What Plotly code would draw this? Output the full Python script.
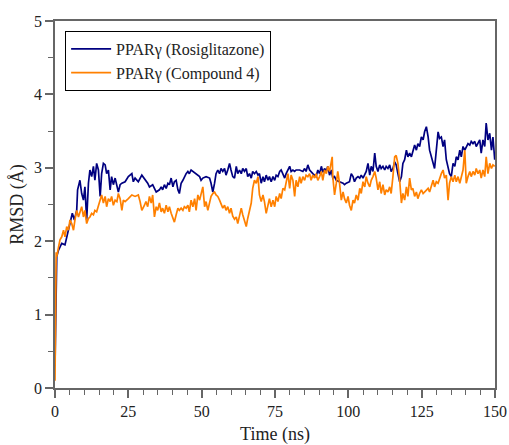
import plotly.graph_objects as go

series_names = ["PPARγ (Rosiglitazone)", "PPARγ (Compound 4)"]
line_colors = ["#000080", "#FF8000"]

t_rosi = [0, 0.3, 0.6, 1.2, 2.3, 3.4, 4.0, 5.1, 5.9, 6.6, 7.4, 7.7, 8.5, 9.1, 9.7, 10.2, 10.8, 11.4, 11.9, 12.5,
          13.1, 13.6, 14.2, 14.8, 15.4, 15.9, 16.5, 17.1, 17.6, 18.2, 18.8, 19.3, 19.9, 20.5, 21.1, 21.6, 22.2, 22.8,
          23.9, 25.0, 26.2, 26.7, 27.3, 28.4, 29.6, 31.0, 31.6, 32.2, 33.3, 33.9, 34.5, 35.6, 36.2, 36.7, 37.3, 37.9,
          38.5, 39.0, 39.6, 40.2, 40.7, 41.3, 41.9, 42.4, 43.0, 43.6, 44.1, 44.7, 45.3, 45.8, 46.4, 47.0, 48.1, 49.3,
          49.8, 50.4, 51.5, 52.7, 53.2, 53.8, 54.4, 54.9, 55.5, 56.1, 56.6, 57.2, 57.8, 58.3, 58.9, 59.5, 60.0, 60.6,
          61.2, 61.8, 62.3, 62.9, 63.5, 64.0, 64.6, 65.2, 65.7, 66.3, 66.9, 67.4, 68.0, 68.6, 69.2, 69.7, 70.3, 70.9,
          71.4, 72.0, 72.6, 73.1, 73.7, 74.3, 74.9, 75.4, 76.0, 76.6, 77.1, 77.7, 78.3, 78.8, 79.4, 80.0, 80.5, 81.1,
          81.7, 82.2, 83.4, 84.5, 85.1, 85.6, 86.2, 86.8, 87.9, 89.0, 89.6, 90.2, 90.8, 91.3, 91.9, 92.5, 93.0, 93.6,
          94.2, 94.7, 95.3, 95.9, 97.0, 98.2, 98.7, 99.3, 100.4, 101.0, 101.6, 102.1, 102.7, 103.3, 103.9, 104.4,
          105.0, 105.6, 106.1, 106.7, 107.3, 107.8, 108.4, 109.0, 109.5, 110.1, 110.7, 111.2, 111.8, 112.4, 112.9,
          113.5, 114.1, 114.6, 115.2, 115.8, 116.3, 116.9, 117.5, 118.1, 118.6, 119.2, 119.8, 120.3, 120.9, 121.5,
          122.0, 122.6, 123.2, 123.7, 124.3, 124.9, 125.5, 126.0, 126.6, 127.2, 127.7, 128.3, 128.9, 129.4, 130.0,
          130.6, 131.1, 131.7, 132.3, 132.8, 133.4, 134.0, 134.5, 135.1, 135.7, 136.3, 136.8, 137.4, 138.0, 138.5,
          139.1, 139.7, 140.2, 140.8, 141.4, 141.9, 142.5, 143.1, 143.6, 144.2, 144.8, 145.3, 145.9, 146.5, 147.0,
          147.6, 148.2, 148.8, 149.3, 149.9]
rmsd_rosi = [0.3, 1.2, 1.79, 1.88, 1.97, 1.95, 2.06, 2.24, 2.38, 2.29, 2.42, 2.70, 2.83, 2.65, 2.56, 2.74, 2.29, 2.79,
             2.97, 2.88, 3.02, 2.83, 3.06, 2.97, 2.61, 2.92, 3.06, 3.04, 2.92, 2.97, 2.70, 2.88, 2.77, 2.86, 2.74,
             2.67, 2.77, 2.79, 2.81, 2.88, 2.92, 2.81, 2.86, 2.81, 2.90, 2.83, 2.79, 2.74, 2.77, 2.72, 2.67, 2.70,
             2.74, 2.70, 2.77, 2.72, 2.79, 2.77, 2.86, 2.74, 2.81, 2.83, 2.70, 2.65, 2.79, 2.83, 2.88, 2.92, 2.95,
             2.92, 2.97, 2.95, 2.92, 2.88, 2.83, 2.86, 2.88, 2.86, 2.79, 2.67, 2.79, 2.92, 2.97, 2.92, 2.99, 2.95,
             2.99, 2.90, 2.97, 3.06, 2.97, 2.88, 2.86, 3.02, 2.92, 2.97, 2.92, 2.99, 2.95, 2.99, 2.88, 2.92, 2.86,
             2.95, 2.92, 2.95, 2.90, 2.92, 2.79, 2.88, 2.81, 2.90, 2.83, 2.88, 2.81, 2.88, 2.83, 2.90, 2.88, 2.95,
             2.97, 2.90, 2.86, 2.92, 2.97, 3.02, 2.95, 2.97, 2.95, 2.97, 2.97, 2.95, 2.99, 2.95, 3.04, 2.97, 2.92,
             2.88, 2.97, 2.92, 3.02, 2.94, 2.99, 2.95, 3.02, 2.90, 2.97, 2.86, 2.88, 2.83, 2.81, 2.79, 2.77, 2.79,
             2.81, 2.92, 2.88, 2.81, 2.86, 2.88, 2.86, 2.90, 2.86, 2.90, 2.95, 3.06, 2.90, 3.02, 2.95, 3.20, 3.02,
             2.95, 3.04, 2.99, 3.02, 2.97, 3.02, 2.99, 3.04, 2.95, 2.99, 3.08, 3.04, 2.92, 2.81, 2.88, 3.06, 3.11,
             3.24, 3.15, 3.20, 3.15, 3.22, 3.31, 3.24, 3.33, 3.29, 3.42, 3.38, 3.49, 3.56, 3.42, 3.24, 3.15, 3.04,
             2.99, 3.24, 3.49, 3.40, 3.42, 3.29, 3.38, 3.11, 3.02, 2.92, 2.88, 3.06, 3.02, 3.15, 3.11, 3.24, 3.15,
             3.29, 3.24, 3.29, 3.33, 3.31, 3.36, 3.33, 3.36, 3.29, 3.33, 3.38, 3.20, 3.38, 3.29, 3.61, 3.38, 3.47,
             3.24, 3.42, 3.11]

t_cmp4 = [0, 0.2, 0.4, 0.6, 1.2, 1.7, 2.3, 2.9, 3.4, 4.0, 4.6, 5.1, 5.7, 6.3, 6.8, 7.4, 8.0, 8.5, 9.1, 9.7, 10.2,
          10.8, 11.4, 11.9, 12.5, 13.1, 13.6, 14.2, 14.8, 15.4, 15.9, 16.5, 17.1, 17.6, 18.2, 18.8, 19.3, 19.9, 20.5,
          21.1, 21.6, 22.2, 22.8, 23.3, 23.9, 25.0, 26.2, 27.3, 28.4, 29.0, 29.6, 30.5, 31.0, 31.6, 32.2, 32.8, 33.3,
          33.9, 34.5, 35.0, 35.6, 36.2, 36.7, 37.3, 37.9, 38.5, 39.0, 39.6, 40.2, 40.7, 41.3, 41.9, 42.4, 43.0, 43.6,
          44.1, 44.7, 45.3, 45.8, 46.4, 47.0, 47.6, 48.1, 48.7, 49.3, 49.8, 50.4, 51.0, 51.5, 52.1, 52.7, 53.2, 53.8,
          54.4, 54.9, 55.5, 56.1, 56.6, 57.2, 57.8, 58.3, 58.9, 59.5, 60.0, 60.6, 61.2, 61.8, 62.3, 62.9, 63.5, 64.0,
          64.6, 65.2, 65.7, 66.3, 66.9, 67.4, 68.0, 68.6, 69.2, 69.7, 70.3, 70.9, 71.4, 72.0, 72.6, 73.1, 73.7, 74.3,
          74.9, 75.4, 76.0, 76.6, 77.1, 77.7, 78.3, 78.8, 79.4, 80.0, 80.5, 81.1, 81.7, 82.2, 82.8, 83.4, 83.9, 84.5,
          85.1, 85.6, 86.2, 86.8, 87.3, 87.9, 88.5, 89.0, 89.6, 90.2, 90.8, 91.3, 91.9, 92.5, 93.0, 93.6, 94.2, 94.5,
          94.7, 95.3, 95.9, 96.4, 97.0, 97.6, 98.2, 98.7, 99.3, 99.9, 100.4, 101.0, 101.6, 102.1, 102.7, 103.3,
          103.9, 104.4, 105.0, 105.6, 106.1, 106.7, 107.3, 107.8, 108.4, 109.0, 109.5, 110.1, 110.7, 111.2, 111.8,
          112.4, 112.9, 113.5, 114.1, 114.6, 115.2, 115.8, 116.3, 116.9, 117.5, 118.1, 118.6, 119.2, 119.8, 120.3,
          120.9, 121.5, 122.0, 122.6, 123.2, 123.7, 124.3, 124.9, 125.5, 126.0, 126.6, 127.2, 127.7, 128.3, 128.9,
          129.4, 130.0, 130.6, 131.1, 131.7, 132.3, 132.8, 133.4, 134.0, 134.5, 135.1, 135.7, 136.3, 136.8, 137.4,
          138.0, 138.5, 139.1, 139.7, 140.2, 140.8, 141.4, 141.9, 142.5, 143.1, 143.6, 144.2, 144.8, 145.3, 145.9,
          146.5, 147.0, 147.6, 148.2, 148.8, 149.3, 149.9]
rmsd_cmp4 = [0.1, 1.0, 1.85, 1.79, 1.92, 2.02, 2.06, 2.15, 2.06, 2.20, 2.15, 2.29, 2.24, 2.15, 2.29, 2.42, 2.33, 2.40,
             2.47, 2.33, 2.42, 2.24, 2.31, 2.33, 2.38, 2.36, 2.42, 2.40, 2.49, 2.56, 2.63, 2.52, 2.61, 2.47, 2.58,
             2.54, 2.61, 2.49, 2.56, 2.54, 2.65, 2.58, 2.42, 2.56, 2.54, 2.58, 2.63, 2.61, 2.63, 2.54, 2.42, 2.49,
             2.54, 2.47, 2.61, 2.52, 2.63, 2.33, 2.47, 2.42, 2.52, 2.40, 2.45, 2.38, 2.49, 2.40, 2.47, 2.38, 2.31,
             2.26, 2.36, 2.45, 2.42, 2.45, 2.42, 2.47, 2.45, 2.49, 2.40, 2.56, 2.47, 2.58, 2.42, 2.63, 2.56, 2.65,
             2.74, 2.47, 2.54, 2.42, 2.52, 2.61, 2.65, 2.67, 2.63, 2.61, 2.56, 2.52, 2.45, 2.49, 2.42, 2.47, 2.38,
             2.45, 2.34, 2.30, 2.33, 2.24, 2.36, 2.45, 2.36, 2.29, 2.20, 2.31, 2.42, 2.52, 2.72, 2.83, 2.79, 2.88,
             2.63, 2.54, 2.63, 2.54, 2.38, 2.49, 2.58, 2.47, 2.56, 2.47, 2.61, 2.54, 2.65, 2.58, 2.72, 2.70, 2.79,
             2.92, 2.72, 2.90, 2.83, 2.61, 2.83, 2.74, 2.88, 2.79, 2.88, 2.83, 2.90, 2.88, 2.92, 2.83, 2.90, 2.86,
             2.92, 2.83, 2.88, 2.95, 2.83, 2.97, 2.92, 3.02, 2.95, 3.11, 3.15, 2.88, 2.63, 2.79, 2.95, 2.79, 2.56,
             2.67, 2.58, 2.52, 2.61, 2.49, 2.42, 2.56, 2.52, 2.63, 2.56, 2.72, 2.65, 2.81, 2.74, 2.88, 2.79, 2.74,
             2.83, 2.88, 2.95, 2.86, 2.70, 2.81, 2.65, 2.77, 2.63, 2.70, 2.67, 2.74, 2.65, 2.88, 3.15, 3.17, 3.06,
             2.83, 2.52, 2.65, 2.56, 2.74, 2.61, 2.86, 2.70, 2.72, 2.61, 2.67, 2.58, 2.65, 2.70, 2.65, 2.67, 2.70,
             2.72, 2.67, 2.77, 2.83, 2.74, 2.81, 2.79, 2.86, 2.92, 2.97, 2.86, 2.90, 2.56, 2.79, 2.88, 2.81, 2.90,
             2.81, 2.88, 2.79, 2.88, 2.97, 3.24, 2.79, 2.88, 2.95, 2.88, 2.95, 2.90, 2.99, 2.92, 2.97, 2.86, 2.97,
             2.88, 3.15, 2.92, 3.06, 2.99, 3.04, 3.02]

x_ticks = [0, 25, 50, 75, 100, 125, 150]
y_ticks = [0, 1, 2, 3, 4, 5]

FONT = "Liberation Serif"
TXT = "#222222"
AX = "#666666"

fig = go.Figure()
fig.add_trace(go.Scatter(x=t_rosi, y=rmsd_rosi, mode="lines", name=series_names[0],
                         line=dict(color=line_colors[0], width=1.7)))
fig.add_trace(go.Scatter(x=t_cmp4, y=rmsd_cmp4, mode="lines", name=series_names[1],
                         line=dict(color=line_colors[1], width=1.7)))

fig.update_layout(
    width=509, height=445,
    margin=dict(l=55, r=14, t=21, b=57),
    paper_bgcolor="white", plot_bgcolor="white",
    font=dict(family=FONT, color=TXT, size=16),
    legend=dict(x=0.023, y=0.973, xanchor="left", yanchor="top",
                bordercolor="black", borderwidth=1, bgcolor="white",
                font=dict(family=FONT, size=16, color=TXT),
                tracegroupgap=0, itemwidth=40),
    showlegend=True,
)
fig.update_xaxes(range=[0, 150], tickvals=x_ticks, ticks="outside", ticklen=8, tickwidth=1.5,
                 tickcolor=AX, showline=True, linecolor=AX, linewidth=1.5, mirror=True,
                 showgrid=False, zeroline=False,
                 minor=dict(dtick=5, ticks="outside", ticklen=5, tickwidth=1.2, tickcolor=AX, showgrid=False),
                 tickfont=dict(family=FONT, size=16, color=TXT),
                 title=dict(text="Time (ns)", font=dict(family=FONT, size=18, color=TXT), standoff=9),
                 automargin=False)
fig.update_yaxes(range=[0, 5], tickvals=y_ticks, ticks="outside", ticklen=8, tickwidth=1.5,
                 tickcolor=AX, showline=True, linecolor=AX, linewidth=1.5, mirror=True,
                 showgrid=False, zeroline=False,
                 minor=dict(dtick=0.5, ticks="outside", ticklen=5, tickwidth=1.2, tickcolor=AX, showgrid=False),
                 tickfont=dict(family=FONT, size=16, color=TXT),
                 title=dict(text="RMSD (Å)", font=dict(family=FONT, size=18, color=TXT), standoff=6),
                 automargin=False)

fig.write_html("out.html")
